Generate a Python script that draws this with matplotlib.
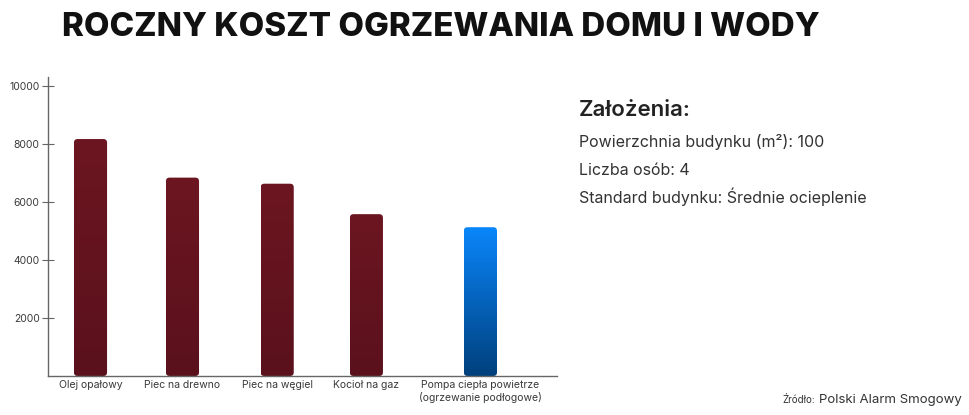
import numpy as np
import matplotlib.pyplot as plt
from matplotlib.patches import FancyBboxPatch
from matplotlib.colors import LinearSegmentedColormap

plt.rcParams['font.family'] = ['Inter', 'DejaVu Sans']

categories = ['Olej opałowy', 'Piec na drewno', 'Piec na węgiel', 'Kocioł na gaz',
              'Pompa ciepła powietrze\n(ogrzewanie podłogowe)']
costs = [8170, 6840, 6630, 5580, 5130]
yticks = [2000, 4000, 6000, 8000, 10000]

# layout: last bar sits a bit further right
xpos = [0, 1, 2.03, 3, 4.24]
red_grad = ('#6c1621', '#5a111c')
blue_grad = ('#0a86fb', '#00407c')
bar_colors = [red_grad, red_grad, red_grad, red_grad, blue_grad]

fig = plt.figure(figsize=(9.7, 4.15), dpi=100)
ax = fig.add_axes([0.0495, 0.094, 0.5245, 0.7205])

ax.set_xlim(-0.462, 5.07)
ax.set_ylim(0, 10310)

w = 0.36
# pixel aspect: data-y per px / data-x per px
asp = (10310 / 299.0) / (1 / 92.0)
for x, v, (c1, c2) in zip(xpos, costs, bar_colors):
    patch = FancyBboxPatch((x - w / 2, 0), w, v,
                           boxstyle='round,pad=0,rounding_size=0.04',
                           mutation_aspect=asp, fc='none', ec='none')
    ax.add_patch(patch)
    grad = np.linspace(0, 1, 256).reshape(-1, 1)
    cm = LinearSegmentedColormap.from_list('g', [c1, c2])
    im = ax.imshow(grad, cmap=cm, aspect='auto', origin='upper',
                   extent=(x - w / 2, x + w / 2, 0, v), zorder=2)
    im.set_clip_path(patch)

for s in ['top', 'right']:
    ax.spines[s].set_visible(False)
for s in ['left', 'bottom']:
    ax.spines[s].set_color('#666666')
    ax.spines[s].set_linewidth(1.0)

ax.set_yticks(yticks)
ax.set_yticklabels([str(t) for t in yticks], fontsize=7.5, color='#3a3a3a')
ax.tick_params(axis='y', direction='inout', length=8, width=0.8, color='#666666', pad=2)
ax.set_xticks(xpos)
ax.set_xticklabels(categories, fontsize=7.5, color='#3a3a3a', linespacing=1.2)
ax.tick_params(axis='x', length=0, pad=3)

fig.text(0.064, 0.933, 'ROCZNY KOSZT OGRZEWANIA DOMU I WODY', fontsize=23.8,
         fontweight='heavy', color='#111111', va='center', ha='left')

fig.text(0.597, 0.735, 'Założenia:', fontsize=16, fontweight='semibold',
         color='#222222', va='center')
fig.text(0.597, 0.658, 'Powierzchnia budynku (m²): 100', fontsize=11.5,
         color='#333333', va='center')
fig.text(0.597, 0.59, 'Liczba osób: 4', fontsize=11.5, color='#333333', va='center')
fig.text(0.597, 0.525, 'Standard budynku: Średnie ocieplenie', fontsize=11.5,
         color='#333333', va='center')

fig.text(0.807, 0.028, 'Źródło:', fontsize=7, color='#333333', va='baseline')
fig.text(0.844, 0.028, 'Polski Alarm Smogowy', fontsize=9.5, color='#333333', va='baseline')

fig.savefig('out.png', dpi=100)
